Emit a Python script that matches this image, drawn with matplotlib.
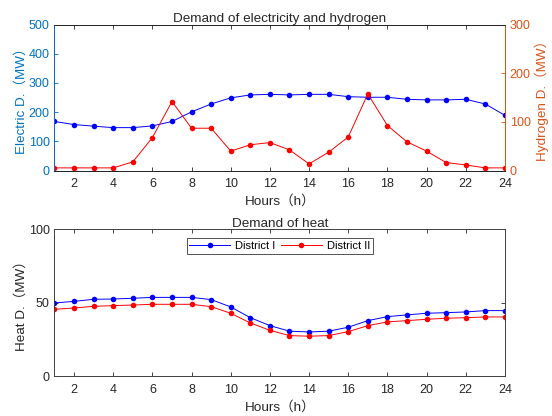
import matplotlib
matplotlib.use("Agg")
import matplotlib.pyplot as plt

plt.rcParams['font.family'] = ['Liberation Sans', 'Noto Sans CJK SC', 'DejaVu Sans']

hours = list(range(1, 25))
electric = [168, 157.5, 152, 147, 147, 153, 168, 201, 228, 249, 259, 261,
            259, 261, 261, 253, 251, 251, 244, 242, 242, 244, 228, 189]
hydrogen = [5.5, 5.5, 5.5, 5.5, 17.8, 67.8, 141.8, 87, 87, 40, 53, 57.5,
            42.5, 13.7, 37.7, 69, 157.5, 92.5, 59, 40, 16.4, 11.6, 5.5, 5.5]
heat_d1 = [50, 51.1, 52.5, 52.7, 53.2, 53.8, 53.8, 53.8, 52.3, 47.3, 40, 34.6,
           30.8, 30.3, 30.8, 33.5, 38, 40.7, 41.9, 43, 43.4, 43.9, 44.8, 44.8]
heat_d2 = [45.7, 46.6, 47.7, 48.2, 48.6, 49.1, 49.1, 49.1, 47.5, 43, 36.4, 31.4,
           27.8, 27.4, 27.8, 30.5, 34.6, 37.1, 38, 38.9, 39.6, 40, 40.5, 40.5]
xticks = list(range(2, 25, 2))

BLUE_AX = '#0072BD'
ORANGE_AX = '#D95319'
DARK = '#262626'
FS = 9
FT = 9.7

fig = plt.figure(figsize=(5.52, 4.16), dpi=100)

# Top axes
ax1 = fig.add_axes([0.0987, 0.590, 0.816, 0.351])
ax2 = ax1.twinx()
ax1.plot(hours, electric, color='blue', lw=0.7, marker='o', ms=4, mec='none')
ax2.plot(hours, hydrogen, color='red', lw=0.7, marker='o', ms=4, mec='none')
ax1.set_xlim(1, 24)
ax1.set_ylim(0, 500)
ax2.set_ylim(0, 300)
ax1.set_xticks(xticks)
ax1.set_yticks([0, 100, 200, 300, 400, 500])
ax2.set_yticks([0, 100, 200, 300])
ax1.set_title('Demand of electricity and hydrogen', fontsize=FT, color=DARK, pad=2)
ax1.set_xlabel('Hours（h）', fontsize=FT, color=DARK, labelpad=3.5)
ax1.set_ylabel('Electric D.（MW）', fontsize=FT, color=BLUE_AX, labelpad=1)
ax2.set_ylabel('Hydrogen D.（MW）', fontsize=FT, color=ORANGE_AX, labelpad=3)
ax1.tick_params(axis='x', direction='in', top=True, colors=DARK, labelsize=FS, length=3, width=0.6, pad=5.3)
ax1.tick_params(axis='y', direction='in', colors=BLUE_AX, labelsize=FS, length=3, width=0.6)
ax2.tick_params(axis='y', direction='in', colors=ORANGE_AX, labelsize=FS, length=3, width=0.6)
for a in (ax1, ax2):
    a.spines['top'].set_color(DARK)
    a.spines['bottom'].set_color(DARK)
    a.spines['left'].set_color(BLUE_AX)
    a.spines['right'].set_color(ORANGE_AX)
    for s in a.spines.values():
        s.set_linewidth(0.7)

# Bottom axes
ax3 = fig.add_axes([0.0987, 0.095, 0.816, 0.3534])
ax3.plot(hours, heat_d1, color='blue', lw=0.7, marker='o', ms=4, mec='none', label='District I')
ax3.plot(hours, heat_d2, color='red', lw=0.7, marker='o', ms=4, mec='none', label='District II')
ax3.set_xlim(1, 24)
ax3.set_ylim(0, 100)
ax3.set_xticks(xticks)
ax3.set_yticks([0, 50, 100])
ax3.set_title('Demand of heat', fontsize=FT, color=DARK, pad=2)
ax3.set_xlabel('Hours（h）', fontsize=FT, color=DARK, labelpad=3.5)
ax3.set_ylabel('Heat D.（MW）', fontsize=FT, color=DARK, labelpad=1)
ax3.tick_params(direction='in', top=True, right=True, colors=DARK, labelsize=FS, length=3, width=0.6)
ax3.tick_params(axis='x', pad=5.3)
for s in ax3.spines.values():
    s.set_color('#404040')
    s.set_linewidth(0.7)
leg = ax3.legend(loc='upper center', ncol=2, fontsize=8, frameon=True, fancybox=False,
                 edgecolor=DARK, borderpad=0.25, handlelength=3.7, columnspacing=0.45,
                 handletextpad=0.45, borderaxespad=0, bbox_to_anchor=(0.5, 0.942))
leg.get_frame().set_linewidth(0.7)

fig.savefig('out.png', dpi=100)
